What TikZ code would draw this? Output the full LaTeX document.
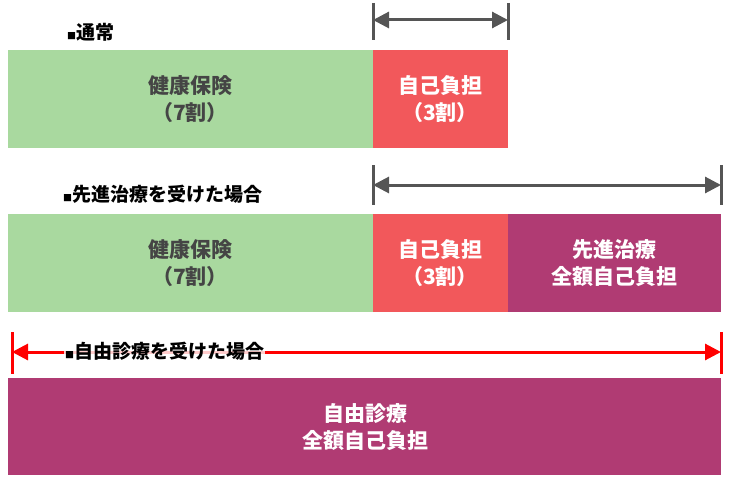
\documentclass[tikz,border=0pt]{standalone}
\usepackage{fontspec}
\setmainfont{Noto Sans CJK JP}
\usetikzlibrary{arrows.meta}
\definecolor{kenko}{HTML}{A9D99F}
\definecolor{jiko}{HTML}{F2585B}
\definecolor{jiyu}{HTML}{B03B73}
\definecolor{moji}{HTML}{454545}
\definecolor{sen}{HTML}{555555}

\begin{document}
\begin{tikzpicture}
        [x=1pt,y=-1pt,
         box/.style={draw=none,inner sep=0,font=\bfseries\fontsize{21}{27}\selectfont,align=center},
         head/.style={inner sep=1pt,font=\bfseries\fontsize{19}{22}\selectfont,text=black,anchor=west},
         span/.style={{Triangle[length=16pt,width=16pt]}-{Triangle[length=16pt,width=16pt]},line width=3pt}]

        \useasboundingbox (0,0) rectangle (735,489);

        % 通常
        \fill[kenko] (8,50) rectangle (373,148);
        \fill[jiko] (373,50) rectangle (508,148);
        \node[box,text=moji] (k1) at (190,99) {健康保険\\（7割）};
        \node[box,text=white] (j1) at (440,99) {自己負担\\（3割）};
        \node[head] (h1) at (66,32) {{\small■}通常};
        \coordinate (a1) at (373,20);
        \coordinate (b1) at (508,20);
        \draw[sen,line width=3pt] (373,3) -- (373,40) (508,3) -- (508,40);
        \draw[span,sen] (a1) -- (b1);

        % 先進治療
        \fill[kenko] (8,214) rectangle (373,312);
        \fill[jiko] (373,214) rectangle (508,312);
        \fill[jiyu] (508,214) rectangle (721,312);
        \node[box,text=moji] (k2) at (190,263) {健康保険\\（7割）};
        \node[box,text=white] (j2) at (440,263) {自己負担\\（3割）};
        \node[box,text=white] (s2) at (614,263) {先進治療\\全額自己負担};
        \node[head] (h2) at (62,194) {{\small■}先進治療を受けた場合};
        \coordinate (a2) at (373,185);
        \coordinate (b2) at (721,185);
        \draw[sen,line width=3pt] (373,165) -- (373,205) (721,165) -- (721,205);
        \draw[span,sen] (a2) -- (b2);

        % 自由診療
        \fill[jiyu] (8,378) rectangle (721,475);
        \node[box,text=white] (s3) at (365,427) {自由診療\\全額自己負担};
        \coordinate (a3) at (12,352);
        \coordinate (b3) at (721,352);
        \draw[red,line width=3pt] (12,332) -- (12,374) (721,332) -- (721,374);
        \draw[span,red] (a3) -- (b3);
        \node[head,fill=white,fill opacity=0.8,text opacity=1] (h3) at (64,351) {{\small■}自由診療を受けた場合};
      \end{tikzpicture}
\end{document}
